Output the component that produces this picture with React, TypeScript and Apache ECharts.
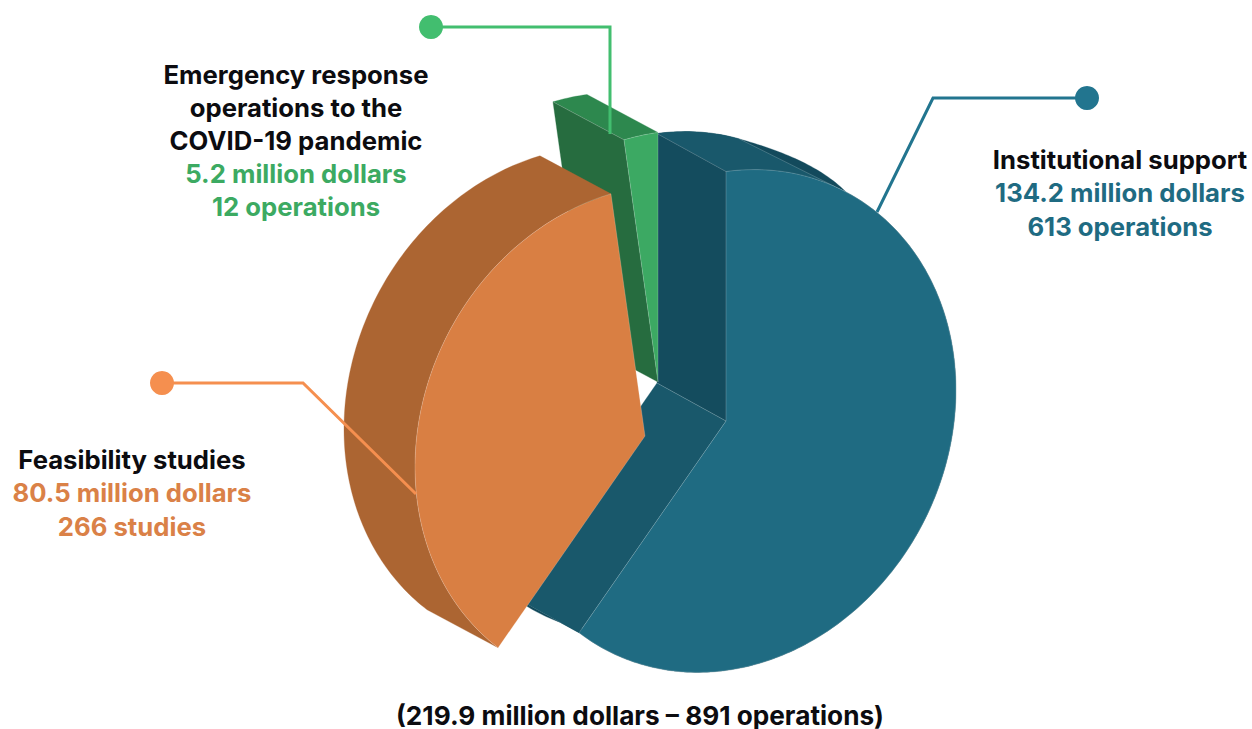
import React, { useEffect, useRef } from "react";
import * as echarts from "echarts";

// Amounts in million dollars, clockwise from twelve o'clock.
const sliceNames = ["Institutional support", "Feasibility studies", "Emergency response operations to the COVID-19 pandemic"];
const amounts = [134.2, 80.5, 5.2];
const countLabels = ["613 operations", "266 studies", "12 operations"];
const totalLabel = "(219.9 million dollars – 891 operations)";

const FONT = "Inter";
const FONT_SIZE = 25.7;
const INK = "#0c0c10";

// Disk-to-screen projection of the tilted pie.
const RADIUS_X = 230;
const RADIUS_Y = 249.5;
const SHEAR_Y = -31;

const sliceStyles: any[] = [
  {
    cx: 726, cy: 421, dx: -69, dy: -38, face: "#1f6b82", rim: "#134a5c", startWall: "#144c5e", endWall: "#19586b", z: 10,
    // Upper rim: back edge bows outward past u = 0.36, lighter band ends on a chord.
    bow: 110,
    band: { color: "#19586b", backTo: 21, frontTo: 28 },
  },
  { cx: 645, cy: 436, dx: -71, dy: -38, face: "#d97f43", rim: "#ac6532", startWall: null, endWall: null, z: 30, bow: 0 },
  { cx: 658, cy: 382, dx: -71, dy: -38, face: "#3ca963", rim: "#2d884e", startWall: "#266c3f", endWall: null, z: 20, bow: 0 },
];
const textColors = ["#1f6b82", "#da8147", "#3caa62"];

const total = amounts.reduce((a, b) => a + b, 0);

function rimPoint(s: any, phi: number, back: boolean) {
  const u = Math.sin(phi);
  const v = -Math.cos(phi);
  const x = s.cx + RADIUS_X * u + (back ? s.dx : 0);
  const over = Math.max(0, u - 0.36);
  const y = s.cy + SHEAR_Y * u + RADIUS_Y * v + (back ? s.dy - s.bow * over * over * (v < 0 ? 1 : 0) : 0);
  return [x, y];
}

function arc(s: any, from: number, to: number, back: boolean) {
  const steps = Math.max(8, Math.ceil(((to - from) * 180) / Math.PI));
  const out: number[][] = [];
  for (let k = 0; k <= steps; k++) out.push(rimPoint(s, from + ((to - from) * k) / steps, back));
  return out;
}

function renderSlice(params: any, api: any) {
  const i = params.dataIndex;
  const s = sliceStyles[i];
  const before = amounts.slice(0, i).reduce((a, b) => a + b, 0);
  const a0 = (before / total) * Math.PI * 2;
  const a1 = ((before + api.value(0)) / total) * Math.PI * 2;

  const front = arc(s, a0, a1, false);
  const back = arc(s, a0, a1, true);
  const last = front.length - 1;
  const centre = [s.cx, s.cy];
  const backCentre = [s.cx + s.dx, s.cy + s.dy];
  const seam = "rgba(255,255,255,0.28)";
  const children: any[] = [];

  const poly = (points: number[][], fill: string, z2: number, stroke?: string) => ({
    type: "polygon",
    z2,
    shape: { points },
    style: { fill, stroke: stroke || fill, lineWidth: stroke ? 0.7 : 0.3 },
  });
  const seamLine = (p: number[], q: number[], z2: number) => ({
    type: "line",
    z2,
    shape: { x1: p[0], y1: p[1], x2: q[0], y2: q[1] },
    style: { stroke: seam, lineWidth: 0.7 },
  });

  children.push(poly([...front, ...back.slice().reverse()], s.rim, s.z));
  if (s.band) {
    const rad = Math.PI / 180;
    const f = arc(s, a0, s.band.frontTo * rad, false);
    const b = arc(s, a0, s.band.backTo * rad, true);
    children.push(poly([...f, ...b.slice().reverse()], s.band.color, s.z, undefined));
    children.push(seamLine(f[f.length - 1], b[b.length - 1], s.z + 1));
  }
  if (s.startWall) {
    children.push(poly([centre, front[0], back[0], backCentre], s.startWall, s.z + 1));
    children.push(seamLine(front[0], back[0], s.z + 2));
  }
  if (s.endWall) {
    children.push(poly([centre, front[last], back[last], backCentre], s.endWall, s.z + 1));
    children.push(seamLine(centre, backCentre, s.z + 2));
  }
  children.push(poly([centre, ...front], s.face, s.z + 3, seam));

  return { type: "group", children };
}

function textBlock(x: number, firstY: number, step: number, lines: string[], colors: string[], size = FONT_SIZE) {
  return lines.map((line, n) => ({
    type: "text",
    z: 60,
    style: {
      x,
      y: firstY + step * n,
      text: line,
      fill: colors[n],
      font: `700 ${size}px ${FONT}`,
      textAlign: "center",
      textVerticalAlign: "middle",
    },
  }));
}

function leader(points: number[][], color: string) {
  return [
    { type: "polyline", z: 50, shape: { points }, style: { stroke: color, lineWidth: 3, fill: "none", lineJoin: "miter" } },
    { type: "circle", z: 51, shape: { cx: points[0][0], cy: points[0][1], r: 12 }, style: { fill: color } },
  ];
}

export default function App() {
  const ref = useRef<HTMLDivElement>(null);

  useEffect(() => {
    document.body.style.margin = "0";
    const chart = echarts.init(ref.current!, null, { renderer: "svg" });
    chart.setOption({
      animation: false,
      backgroundColor: "#ffffff",
      series: [
        {
          type: "custom",
          coordinateSystem: "none",
          silent: true,
          data: amounts,
          renderItem: renderSlice,
        },
      ],
      graphic: {
        elements: [
          ...leader([[1087, 98], [933, 98], [877, 212]], "#22758f"),
          ...leader([[431, 27], [610, 27], [610, 134]], "#42be6f"),
          ...leader([[162, 383], [303, 383], [416, 494]], "#f58f4f"),
          ...textBlock(1120, 159, 33.5, [sliceNames[0], `${amounts[0]} million dollars`, countLabels[0]], [INK, textColors[0], textColors[0]]),
          ...textBlock(132, 459, 33.5, [sliceNames[1], `${amounts[1]} million dollars`, countLabels[1]], [INK, textColors[1], textColors[1]]),
          ...textBlock(
            296,
            74,
            33,
            ["Emergency response", "operations to the", "COVID-19 pandemic", `${amounts[2]} million dollars`, countLabels[2]],
            [INK, INK, INK, textColors[2], textColors[2]]
          ),
          ...textBlock(640, 715, 0, [totalLabel], [INK], 26.2),
        ],
      },
    });
    return () => chart.dispose();
  }, []);

  return <div ref={ref} style={{ width: 1252, height: 729 }} />;
}
